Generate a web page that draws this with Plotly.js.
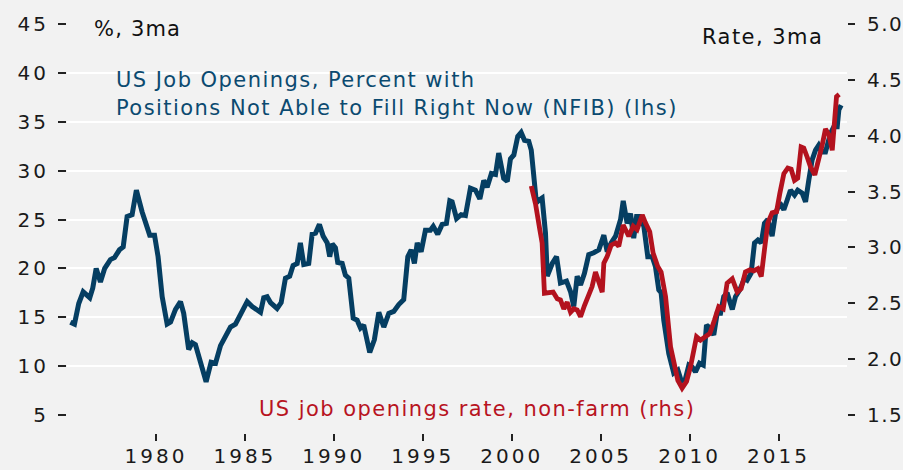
<!DOCTYPE html>
<html><head><meta charset="utf-8">
<script src="https://cdn.plot.ly/plotly-3.0.1.min.js"></script>
<style>
html,body{margin:0;padding:0;background:#f2f2f2;}
#chart{width:903px;height:470px;}
.xtick text,.ytick text{letter-spacing:3px;}
.y2tick text{letter-spacing:1.5px;}
.annotation-text{letter-spacing:1.45px;}
.annotation:nth-of-type(5) .annotation-text{letter-spacing:1.2px;}
</style></head>
<body><div id="chart"></div>
<script>
// NFIB: % of firms with positions not able to fill right now, 3ma (lhs)
const nfibYears = [1975.19,1975.42,1975.66,1975.91,1976.28,1976.45,1976.64,1976.88,1977.12,1977.44,1977.67,1977.95,1978.16,1978.38,1978.66,1978.90,1979.22,1979.47,1979.65,1979.92,1980.12,1980.35,1980.63,1980.82,1981.10,1981.38,1981.56,1981.84,1982.04,1982.22,1982.50,1982.82,1983.10,1983.35,1983.63,1983.91,1984.19,1984.47,1984.75,1985.13,1985.41,1985.69,1985.88,1986.06,1986.25,1986.44,1986.81,1987.04,1987.28,1987.52,1987.71,1987.94,1988.12,1988.31,1988.59,1988.78,1988.97,1989.19,1989.40,1989.63,1989.77,1989.91,1990.09,1990.22,1990.47,1990.65,1990.84,1991.09,1991.31,1991.50,1991.68,1992.02,1992.28,1992.53,1992.81,1993.09,1993.37,1993.65,1993.93,1994.16,1994.35,1994.53,1994.69,1994.91,1995.15,1995.43,1995.59,1995.84,1996.09,1996.33,1996.52,1996.65,1996.90,1997.16,1997.40,1997.68,1997.96,1998.21,1998.43,1998.62,1998.86,1999.09,1999.27,1999.55,1999.75,1999.93,2000.12,2000.34,2000.53,2000.72,2000.96,2001.10,2001.24,2001.39,2001.55,2001.71,2001.90,2002.00,2002.28,2002.52,2002.74,2003.08,2003.31,2003.49,2003.68,2003.87,2004.09,2004.33,2004.61,2004.90,2005.18,2005.37,2005.59,2005.84,2006.12,2006.27,2006.49,2006.68,2006.86,2007.02,2007.20,2007.43,2007.65,2007.90,2008.08,2008.27,2008.40,2008.55,2008.83,2009.11,2009.34,2009.53,2009.75,2009.96,2010.15,2010.33,2010.56,2010.77,2010.95,2011.08,2011.36,2011.55,2011.74,2011.92,2012.11,2012.40,2012.58,2012.82,2013.09,2013.24,2013.46,2013.65,2013.84,2014.03,2014.21,2014.40,2014.64,2014.83,2015.07,2015.30,2015.49,2015.67,2015.90,2016.08,2016.33,2016.52,2016.70,2016.89,2017.08,2017.26,2017.46,2017.64,2017.92,2018.11,2018.30,2018.39,2018.52,2018.61];
const nfibValues = [14.5,14.3,16.4,17.6,17.0,18.0,20.0,18.6,20.0,20.9,21.1,21.9,22.2,25.3,25.5,28.0,25.8,24.6,23.4,23.4,21.2,17.1,14.3,14.5,15.8,16.6,15.4,11.7,12.4,12.2,10.3,8.4,10.4,10.3,12.1,13.2,14.0,14.3,15.3,16.6,16.1,15.8,15.5,17.0,17.1,16.5,15.9,16.5,19.0,19.2,20.3,20.5,22.6,20.4,20.5,23.5,23.6,24.5,23.3,22.6,21.2,22.5,22.1,20.6,20.5,19.3,19.0,14.9,14.7,13.9,14.2,11.4,12.7,15.5,14.0,15.4,15.6,16.3,16.8,21.2,21.9,20.5,22.6,21.7,23.9,23.9,24.3,23.5,24.5,24.6,26.9,26.8,25.1,25.5,25.4,28.2,28.0,27.1,29.0,28.3,29.7,29.6,31.8,29.2,28.9,31.2,31.6,33.5,33.9,33.1,33.0,32.1,29.4,26.7,27.0,27.2,23.6,19.2,20.5,21.2,18.5,18.7,17.6,16.1,19.2,18.3,19.5,21.4,21.6,21.9,23.4,21.7,22.6,23.3,25.0,26.9,24.6,25.6,23.1,25.3,25.3,24.3,21.2,21.2,20.2,17.8,17.5,14.7,11.3,9.3,9.6,8.5,8.6,10.1,9.9,9.4,10.3,10.1,14.2,14.0,13.2,15.4,15.4,17.1,17.5,15.8,17.1,17.8,19.0,18.8,19.5,22.6,22.9,22.6,24.6,25.0,23.3,25.6,26.7,26.0,27.0,28.0,27.5,28.0,27.7,26.8,29.0,31.1,32.1,32.6,31.9,31.9,33.8,34.5,34.5,36.2,36.7];

// JOLTS: US job openings rate, non-farm, 3ma (rhs)
const joltsYears = [2001.10,2001.34,2001.58,2001.71,2001.84,2002.08,2002.33,2002.56,2002.74,2002.93,2003.12,2003.31,2003.49,2003.68,2003.87,2004.09,2004.33,2004.52,2004.71,2004.90,2005.09,2005.18,2005.37,2005.59,2005.84,2006.02,2006.27,2006.58,2006.83,2007.05,2007.34,2007.52,2007.76,2007.95,2008.21,2008.40,2008.65,2008.93,2009.11,2009.34,2009.58,2009.83,2010.05,2010.24,2010.39,2010.61,2010.89,2011.14,2011.40,2011.64,2011.89,2012.11,2012.40,2012.68,2012.90,2013.14,2013.39,2013.61,2013.84,2014.03,2014.21,2014.40,2014.64,2014.89,2015.07,2015.30,2015.52,2015.71,2015.90,2016.08,2016.27,2016.42,2016.61,2016.80,2017.04,2017.26,2017.46,2017.64,2017.83,2018.02,2018.11,2018.26,2018.41];
const joltsValues = [3.55,3.39,3.16,3.04,2.59,2.60,2.60,2.54,2.53,2.45,2.51,2.42,2.45,2.44,2.38,2.48,2.59,2.65,2.78,2.68,2.60,2.86,2.92,3.02,3.04,3.01,3.20,3.10,3.19,3.16,3.29,3.22,3.14,2.95,2.83,2.78,2.56,2.11,1.96,1.81,1.74,1.80,1.93,2.11,2.20,2.17,2.20,2.23,2.35,2.47,2.45,2.68,2.72,2.60,2.63,2.78,2.80,2.79,2.81,2.74,2.98,3.22,3.31,3.32,3.48,3.66,3.71,3.70,3.60,3.62,3.90,3.89,3.81,3.72,3.65,3.78,3.92,4.06,4.01,3.87,4.05,4.35,4.37];

const xTickVals = [1980,1985,1990,1995,2000,2005,2010,2015];
const xTickText = ['1980','1985','1990','1995','2000','2005','2010','2015'];
const leftTickVals = [5,10,15,20,25,30,35,40,45];
const rightTickVals = [1.5,2.0,2.5,3.0,3.5,4.0,4.5,5.0];
const rightTickText = ['1.5','2.0','2.5','3.0','3.5','4.0','4.5','5.0'];

const FONT = 'DejaVu Sans';
const BLUE = '#053e62';
const RED = '#b3121e';
const TXT = '#1a1a1a';

const traces = [
  {x: nfibYears, y: nfibValues, type: 'scatter', mode: 'lines', yaxis: 'y',
   line: {color: BLUE, width: 5}, hoverinfo: 'skip', showlegend: false},
  {x: joltsYears, y: joltsValues, type: 'scatter', mode: 'lines', yaxis: 'y2',
   line: {color: RED, width: 4.8}, hoverinfo: 'skip', showlegend: false}
];

const layout = {
  width: 903, height: 470,
  margin: {l: 67, r: 56, t: 24, b: 37},
  paper_bgcolor: '#f2f2f2', plot_bgcolor: '#f2f2f2',
  font: {family: FONT, size: 20, color: TXT},
  showlegend: false,
  xaxis: {
    range: [1975, 2018.85], anchor: 'free', position: 0,
    tickvals: xTickVals, ticktext: xTickText,
    ticks: 'outside', ticklen: 7, tickwidth: 2, tickcolor: '#222',
    showgrid: false, zeroline: false, showline: false,
    tickfont: {family: FONT, size: 20, color: TXT},
    ticklabelstandoff: -2
  },
  yaxis: {
    range: [5, 45], domain: [0.044, 1],
    tickvals: leftTickVals,
    ticks: 'outside', ticklen: 8, tickwidth: 2, tickcolor: '#222',
    showgrid: true, gridcolor: '#ffffff', gridwidth: 2,
    zeroline: false, showline: false,
    tickfont: {family: FONT, size: 20, color: TXT},
    ticklabelstandoff: 5
  },
  yaxis2: {
    range: [1.5, 5.0], overlaying: 'y', side: 'right', anchor: 'x',
    tickvals: rightTickVals, ticktext: rightTickText,
    ticks: 'outside', ticklen: 7, tickwidth: 2, tickcolor: '#222',
    showgrid: false, zeroline: false, showline: false,
    tickfont: {family: FONT, size: 20, color: TXT},
    ticklabelstandoff: 8
  },
  annotations: [
    {text: '%, 3ma', xref: 'paper', yref: 'paper', x: (92-67)/780, y: (433-29)/409,
     xanchor: 'left', yanchor: 'middle', align: 'left', showarrow: false,
     font: {family: FONT, size: 21, color: '#111'}},
    {text: 'Rate, 3ma', xref: 'paper', yref: 'paper', x: (825-67)/780, y: (433-37)/409,
     xanchor: 'right', yanchor: 'middle', align: 'right', showarrow: false,
     font: {family: FONT, size: 21, color: '#111'}},
    {text: 'US Job Openings, Percent with', xref: 'paper', yref: 'paper', x: (114-67)/780, y: (433-80)/409,
     xanchor: 'left', yanchor: 'middle', align: 'left', showarrow: false,
     font: {family: FONT, size: 21, color: '#0b4a70'}},
    {text: 'Positions Not Able to Fill Right Now (NFIB) (lhs)', xref: 'paper', yref: 'paper', x: (114-67)/780, y: (433-108)/409,
     xanchor: 'left', yanchor: 'middle', align: 'left', showarrow: false,
     font: {family: FONT, size: 21, color: '#0b4a70'}},
    {text: 'US job openings rate, non-farm (rhs)', xref: 'paper', yref: 'paper', x: (257-67)/780, y: (433-409)/409,
     xanchor: 'left', yanchor: 'middle', align: 'left', showarrow: false,
     font: {family: FONT, size: 21, color: '#b8141f'}}
  ]
};

Plotly.newPlot('chart', traces, layout, {staticPlot: true, displayModeBar: false});
</script>
</body></html>
